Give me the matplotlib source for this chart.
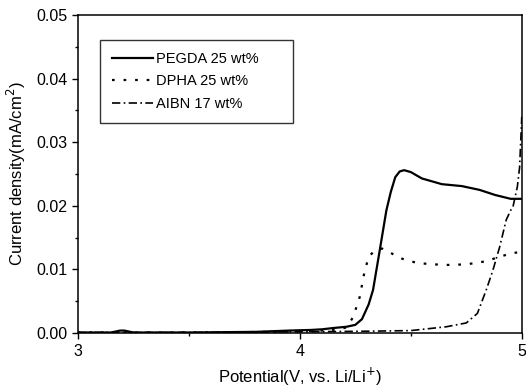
import numpy as np
import matplotlib.pyplot as plt
from matplotlib.ticker import MultipleLocator

plt.rcParams['font.family'] = ['Liberation Sans', 'DejaVu Sans']

# PEGDA 25 wt% (solid)
pegda_v = [3.0, 3.15, 3.19, 3.21, 3.25, 3.5, 3.8, 3.95, 4.05, 4.1, 4.15, 4.21, 4.25, 4.28,
           4.31, 4.33, 4.36, 4.39, 4.41, 4.43, 4.45, 4.47, 4.50, 4.55, 4.64, 4.73,
           4.81, 4.88, 4.95, 5.0]
pegda_i = [0.0001, 0.0001, 0.0004, 0.0004, 0.0001, 0.0001, 0.0002, 0.0004, 0.0005, 0.0006,
           0.0008, 0.001, 0.0013, 0.0022, 0.0045, 0.0068, 0.013, 0.0193, 0.0222,
           0.0245, 0.0254, 0.0256, 0.0253, 0.0243, 0.0234, 0.0231, 0.0225, 0.0217,
           0.0211, 0.0211]

# DPHA 25 wt% (dotted)
dpha_v = [3.0, 3.5, 3.9, 4.1, 4.18, 4.21, 4.24, 4.27, 4.29, 4.31, 4.33, 4.37, 4.41,
          4.45, 4.53, 4.65, 4.75, 4.84, 4.90, 4.96, 4.99]
dpha_i = [0.0001, 0.0001, 0.0002, 0.0004, 0.0006, 0.0009, 0.0025, 0.0057, 0.0094,
          0.012, 0.0127, 0.0133, 0.0126, 0.0118, 0.011, 0.0107, 0.0108, 0.0113,
          0.012, 0.0126, 0.0127]

# AIBN 17 wt% (dash-dot)
aibn_v = [3.0, 3.5, 4.0, 4.3, 4.5, 4.66, 4.75, 4.80, 4.84, 4.87, 4.90, 4.93, 4.95,
          4.96, 4.98, 4.99, 5.0]
aibn_i = [0.0001, 0.0001, 0.0002, 0.0003, 0.0004, 0.001, 0.0016, 0.0031, 0.0068,
          0.0099, 0.0135, 0.0178, 0.0193, 0.0198, 0.023, 0.026, 0.034]

fig = plt.figure(figsize=(5.26, 3.91), dpi=100)
ax = fig.add_axes([0.148, 0.148, 0.844, 0.814])

ax.plot(pegda_v, pegda_i, color='black', lw=1.6, ls='-', label='PEGDA 25 wt%')
ax.plot(dpha_v, dpha_i, color='black', lw=1.6, ls=(0, (1.2, 4)), label='DPHA 25 wt%')
ax.plot(aibn_v, aibn_i, color='black', lw=1.2, ls=(0, (5, 2, 1, 2)), label='AIBN 17 wt%')

ax.set_xlim(3, 5)
ax.set_ylim(0, 0.05)
ax.set_xticks([3, 4, 5])
ax.set_yticks([0.0, 0.01, 0.02, 0.03, 0.04, 0.05])
ax.set_yticklabels(['0.00', '0.01', '0.02', '0.03', '0.04', '0.05'])
ax.xaxis.set_minor_locator(MultipleLocator(0.5))
ax.yaxis.set_minor_locator(MultipleLocator(0.005))
ax.tick_params(which='major', direction='out', length=4, width=1, labelsize=11.5)
ax.tick_params(which='minor', direction='out', length=2, width=1)
for s in ax.spines.values():
    s.set_linewidth(1.1)

ax.set_xlabel('Potential(V, vs. Li/Li$^{+}$)', fontsize=12, labelpad=5)
ax.set_ylabel('Current density(mA/cm$^{2}$)', fontsize=12, labelpad=6)

# legend frame stretched to the box width seen in the reference
leg = ax.legend(loc='upper left', bbox_to_anchor=(0.05, 0.921, 0.435, 0.0), mode='expand',
                fontsize=10.5, frameon=True, fancybox=False, edgecolor='black',
                handlelength=2.8, handletextpad=0.25, borderpad=0.8, labelspacing=0.6,
                borderaxespad=0.0)
leg.get_frame().set_linewidth(1.0)

fig.savefig('out.png', dpi=100)
